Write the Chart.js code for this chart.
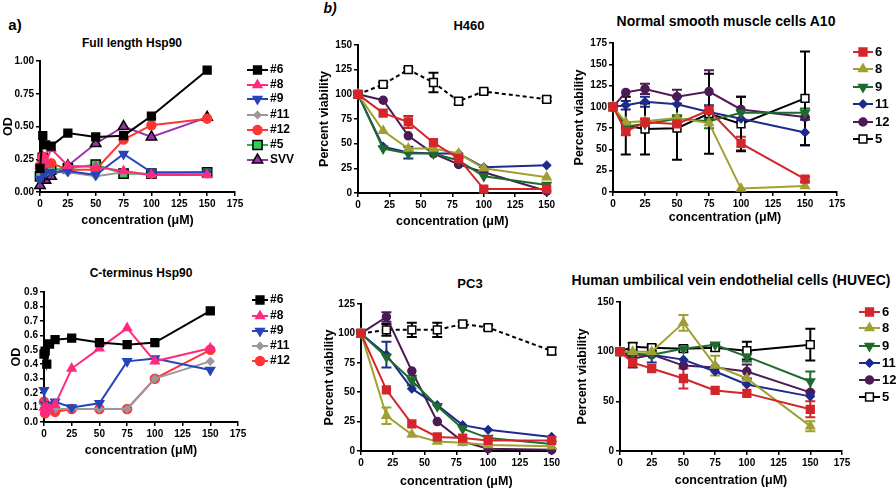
<!DOCTYPE html>
<html>
<head>
<meta charset="utf-8">
<script src="https://cdn.jsdelivr.net/npm/chart.js@4.4.1/dist/chart.umd.min.js"></script>
<style>
  body { margin: 0; background: #fff; font-family: "Liberation Sans", Arial, sans-serif; }
  #fig { position: relative; width: 896px; height: 490px; overflow: hidden; background: #fff; }
  canvas { position: absolute; }
  .t { position: absolute; font-weight: bold; font-size: 12px; white-space: nowrap; transform: translate(-50%, -50%); color: #000; }
</style>
</head>
<body>
<div id="fig">
  <div class="t" style="left:15px;top:24px;font-size:15px">a)</div>
  <div class="t" style="left:330px;top:8px;font-size:14px;font-style:italic">b)</div>
  <div class="t" style="left:132px;top:43px">Full length Hsp90</div>
  <div class="t" style="left:141px;top:273px">C-terminus Hsp90</div>
  <div class="t" style="left:469px;top:25px;font-size:13px">H460</div>
  <div class="t" style="left:726px;top:21px;font-size:14px">Normal smooth muscle cells A10</div>
  <div class="t" style="left:470px;top:283px;font-size:13px">PC3</div>
  <div class="t" style="left:731px;top:280px;font-size:14px">Human umbilical vein endothelial cells (HUVEC)</div>
</div>
<script>
// ---- a) Full length Hsp90 (OD)
var concA = [0, 2.5, 5, 10, 25, 50, 75, 100, 150];
var fl6   = [0.18, 0.43, 0.36, 0.35, 0.45, 0.42, 0.43, 0.58, 0.93];
var fl8   = [0.20, 0.27, 0.22, 0.33, 0.20, 0.19, 0.16, 0.13, 0.13];
var fl9   = [0.10, 0.15, 0.15, 0.15, 0.16, 0.13, 0.29, 0.15, 0.15];
var fl11  = [0.12, 0.15, 0.14, 0.15, 0.15, 0.12, 0.15, 0.13, 0.14];
var fl12  = [0.20, 0.27, 0.22, 0.22, 0.17, 0.17, 0.40, 0.51, 0.56];
var fl5   = [0.12, 0.26, 0.20, 0.17, 0.18, 0.21, 0.14, 0.14, 0.15];
var flSVV = [0.05, 0.12, 0.09, 0.12, 0.20, 0.37, 0.50, 0.42, 0.57];

// ---- a) C-terminus Hsp90 (OD)
var concC = [0, 1, 2.5, 5, 10, 25, 50, 75, 100, 150];
var ct6  = [0.47, 0.49, 0.40, 0.54, 0.57, 0.58, 0.55, 0.535, 0.55, 0.77];
var ct8  = [0.10, 0.07, 0.10, 0.09, 0.12, 0.37, 0.51, 0.65, 0.42, 0.51];
var ct9  = [0.22, 0.12, 0.10, 0.12, 0.14, 0.10, 0.13, 0.42, 0.44, 0.36];
var ct11 = [0.12, 0.10, 0.10, 0.09, 0.09, 0.09, 0.09, 0.09, 0.30, 0.42];
var ct12 = [0.14, 0.06, 0.08, 0.10, 0.07, 0.09, 0.09, 0.09, 0.30, 0.50];

// ---- b) H460 and PC3 (percent viability)
var concB = [0, 20, 40, 60, 80, 100, 150];
var h6  = [100, 81, 72, 51, 35, 4, 4];
var h8  = [100, 63, 45, 45, 40, 25, 16];
var h9  = [100, 45, 40, 40, 33, 17, 8];
var h11 = [100, 47, 41, 40, 40, 26, 28];
var h12 = [100, 94, 58, 40, 29, 21, 2];
var h5  = [100, 110, 125, 112, 93, 103, 95];
var h5err  = [0, 2, 2, 10, 3, 2, 2];
var h6err  = [0, 0, 6, 0, 0, 0, 0];
var h11err = [0, 0, 6, 0, 0, 0, 0];

var p6  = [100, 52, 23, 12, 11, 9, 9];
var p8  = [100, 30, 14, 8, 7, 5, 4];
var p9  = [100, 80, 60, 38, 19, 11, 6];
var p11 = [100, 82, 53, 39, 22, 18, 12];
var p12 = [100, 114, 68, 25, 8, 2, 1];
var p5  = [100, 103, 103, 103, 108, 105, 85];
var p5err  = [0, 5, 6, 6, 2, 2, 3];
var p8err  = [0, 7, 0, 0, 0, 0, 0];
var p9err  = [0, 0, 4, 0, 0, 0, 0];
var p11err = [0, 11, 0, 0, 0, 0, 0];
var p12err = [0, 4, 0, 0, 0, 0, 0];

// ---- b) A10 and HUVEC (percent viability)
var concN = [0, 10, 25, 50, 75, 100, 150];
var n6  = [100, 71, 82, 80, 96, 57, 15];
var n8  = [100, 82, 83, 87, 81, 4, 7];
var n9  = [100, 77, 80, 86, 83, 93, 93];
var n11 = [100, 102, 106, 103, 94, 86, 70];
var n12 = [100, 117, 121, 112, 118, 97, 88];
var n5  = [100, 78, 74, 75, 92, 80, 110];
var n5err  = [0, 34, 30, 37, 47, 32, 55];
var n6err  = [0, 4, 4, 0, 5, 8, 3];
var n11err = [0, 5, 6, 0, 8, 0, 15];
var n12err = [0, 0, 6, 8, 25, 15, 0];
var n9err  = [0, 0, 0, 4, 8, 0, 5];

var u6  = [100, 89, 83, 73, 61, 58, 42];
var u8  = [100, 100, 100, 129, 86, 73, 25];
var u9  = [100, 98, 97, 103, 107, 95, 70];
var u11 = [100, 97, 97, 92, 80, 67, 55];
var u12 = [100, 93, 97, 86, 84, 80, 59];
var u5  = [100, 105, 104, 103, 104, 101, 107];
var u5err  = [0, 4, 3, 3, 3, 9, 16];
var u6err  = [0, 0, 0, 10, 0, 0, 8];
var u8err  = [0, 0, 0, 8, 10, 0, 5];
var u9err  = [0, 0, 0, 0, 0, 5, 10];
var u11err = [0, 0, 8, 0, 0, 0, 0];
var u12err = [0, 9, 0, 0, 0, 7, 0];

var FONT = "Liberation Sans";

// marker/line styles
var ST = {
  a6:  { borderColor: '#000', pointBackgroundColor: '#000', pointBorderColor: '#000', pointStyle: 'rect', pointRadius: 5.5 },
  a8:  { borderColor: '#ff2a80', pointBackgroundColor: '#ff2a80', pointBorderColor: '#ff2a80', pointStyle: 'triangle', pointRadius: 5 },
  a9:  { borderColor: '#2545b8', pointBackgroundColor: '#2545b8', pointBorderColor: '#2545b8', pointStyle: 'triangle', pointRotation: 180, pointRadius: 5 },
  a11: { borderColor: '#999', pointBackgroundColor: '#999', pointBorderColor: '#999', pointStyle: 'rectRot', pointRadius: 3.5 },
  a12: { borderColor: '#ff3535', pointBackgroundColor: '#ff3535', pointBorderColor: '#ff3535', pointStyle: 'circle', pointRadius: 4.5 },
  a5:  { borderColor: '#22bb44', pointBackgroundColor: '#33cc55', pointBorderColor: '#000', pointStyle: 'rect', pointRadius: 6.5 },
  aS:  { borderColor: '#9933aa', pointBackgroundColor: '#9933aa', pointBorderColor: '#000', pointStyle: 'triangle', pointRadius: 6 },
  b6:  { borderColor: '#d3262b', pointBackgroundColor: '#d3262b', pointBorderColor: '#d3262b', pointStyle: 'rect', pointRadius: 5.5 },
  b8:  { borderColor: '#a0a032', pointBackgroundColor: '#a0a032', pointBorderColor: '#a0a032', pointStyle: 'triangle', pointRadius: 5 },
  b9:  { borderColor: '#1e6b2e', pointBackgroundColor: '#1e6b2e', pointBorderColor: '#1e6b2e', pointStyle: 'triangle', pointRotation: 180, pointRadius: 5 },
  b11: { borderColor: '#1c2b8c', pointBackgroundColor: '#1c2b8c', pointBorderColor: '#1c2b8c', pointStyle: 'rectRot', pointRadius: 4 },
  b12: { borderColor: '#4b1b55', pointBackgroundColor: '#4b1b55', pointBorderColor: '#4b1b55', pointStyle: 'circle', pointRadius: 4 },
  b5:  { borderColor: '#000', pointBackgroundColor: '#fff', pointBorderColor: '#000', pointStyle: 'rect', pointRadius: 5.5 }
};

function ser(label, xs, ys, st, errs, dash) {
  var d = Object.assign({
    label: label,
    data: xs.map(function (x, i) { return { x: x, y: ys[i] }; }),
    borderWidth: 2, pointBorderWidth: 1.5, tension: 0, clip: false,
    pointHoverRadius: 5
  }, st);
  if (errs) d.errs = errs;
  if (dash) d.borderDash = [4, 3];
  return d;
}

// error bars with caps
var errorBars = {
  id: 'errorBars',
  beforeDatasetsDraw: function (chart) {
    var ctx = chart.ctx, xs = chart.scales.x, ys = chart.scales.y;
    chart.data.datasets.forEach(function (ds) {
      if (!ds.errs) return;
      ctx.save();
      ctx.strokeStyle = ds.borderColor;
      ctx.lineWidth = 2;
      ds.errs.forEach(function (e, j) {
        if (!e) return;
        var p = ds.data[j];
        var x = xs.getPixelForValue(p.x);
        var y1 = ys.getPixelForValue(p.y + e), y2 = ys.getPixelForValue(p.y - e);
        ctx.beginPath();
        ctx.moveTo(x, y1); ctx.lineTo(x, y2);
        ctx.moveTo(x - 5, y1); ctx.lineTo(x + 5, y1);
        ctx.moveTo(x - 5, y2); ctx.lineTo(x + 5, y2);
        ctx.stroke();
      });
      ctx.restore();
    });
  }
};

// legend: line - marker - line, then label
function sideLegend(lg) {
  return {
    id: 'sideLegend',
    afterDraw: function (chart) {
      var ctx = chart.ctx;
      chart.data.datasets.forEach(function (ds, i) {
        var y = lg.ys[i];
        ctx.save();
        ctx.strokeStyle = ds.borderColor; ctx.lineWidth = 2;
        ctx.beginPath(); ctx.moveTo(lg.x0, y); ctx.lineTo(lg.x1, y); ctx.stroke();
        ctx.fillStyle = ds.pointBackgroundColor;
        ctx.strokeStyle = ds.pointBorderColor;
        ctx.lineWidth = 1.5;
        Chart.helpers.drawPoint(ctx, {
          pointStyle: ds.pointStyle, radius: ds.pointRadius,
          rotation: ds.pointRotation || 0, borderWidth: 1.5
        }, (lg.x0 + lg.x1) / 2, y);
        ctx.fillStyle = '#000';
        ctx.font = 'bold ' + lg.size + 'px "' + FONT + '"';
        ctx.textBaseline = 'middle'; ctx.textAlign = 'left';
        ctx.fillText(ds.label, lg.xt, y);
        ctx.restore();
      });
    }
  };
}

function panel(p) {
  var left = p.L - p.yw, top = p.T - 8;
  var w = p.right - left, h = p.B + p.xh - top;
  var cv = document.createElement('canvas');
  cv.width = w; cv.height = h;
  cv.style.left = left + 'px'; cv.style.top = top + 'px';
  document.getElementById('fig').appendChild(cv);

  var tickFont = { family: FONT, size: 10, weight: 'bold' };
  var plugins = [errorBars];
  if (p.legend) {
    var lg = p.legend;
    plugins.push(sideLegend({
      x0: lg.x0 - left, x1: lg.x1 - left, xt: lg.xt - left, size: lg.size,
      ys: lg.ys.map(function (v) { return v - top; })
    }));
  }
  return new Chart(cv, {
    type: 'line',
    data: { datasets: p.datasets },
    plugins: plugins,
    options: {
      responsive: false,
      animation: false,
      layout: { padding: { left: 0, top: 8, right: p.right - p.R, bottom: 0 } },
      plugins: { legend: { display: false }, tooltip: { enabled: false } },
      scales: {
        x: {
          type: 'linear', min: 0, max: p.xmax,
          ticks: { stepSize: 25, color: '#000', font: tickFont, padding: 2, maxRotation: 0, autoSkip: false },
          grid: { drawOnChartArea: false, color: '#000', lineWidth: 1.5, tickLength: 4 },
          border: { color: '#000', width: 2 },
          title: { display: true, text: 'concentration (μM)', color: '#000',
                   font: { family: FONT, size: 12.5, weight: 'bold' }, padding: { top: 0, bottom: 0 } },
          afterFit: function (s) { s.height = p.xh; }
        },
        y: {
          min: 0, max: p.ymax,
          ticks: { stepSize: p.ystep, color: '#000', font: tickFont, padding: 2, autoSkip: false,
                   callback: function (v) { return p.yfmt ? v.toFixed(p.yfmt) : v; } },
          grid: { drawOnChartArea: false, color: '#000', lineWidth: 1.5, tickLength: 4 },
          border: { color: '#000', width: 2 },
          title: { display: true, text: p.ytitle, color: '#000',
                   font: { family: FONT, size: 12.5, weight: 'bold' }, padding: { top: p.ytp || 0, bottom: 0 } },
          afterFit: function (s) { s.width = p.yw; }
        }
      }
    }
  });
}

// a) top
panel({
  L: 40, T: 61, R: 235, B: 192, yw: 40, xh: 36, right: 300,
  xmax: 175, ymax: 1, ystep: 0.25, yfmt: 2, ytitle: 'OD', ytp: 1,
  legend: { x0: 247, x1: 268, xt: 270, size: 12, ys: [70, 85, 99, 115, 130, 145, 160] },
  datasets: [
    ser('#6', concA, fl6, ST.a6),
    ser('#8', concA, fl8, ST.a8),
    ser('#9', concA, fl9, ST.a9),
    ser('#11', concA, fl11, ST.a11),
    ser('#12', concA, fl12, ST.a12),
    ser('#5', concA, fl5, ST.a5),
    ser('SVV', concA, flSVV, ST.aS)
  ]
});

// a) bottom
panel({
  L: 44, T: 292, R: 238, B: 422, yw: 44, xh: 36, right: 300,
  xmax: 175, ymax: 0.9, ystep: 0.1, yfmt: 1, ytitle: 'OD', ytp: 9,
  legend: { x0: 252, x1: 268, xt: 270, size: 12, ys: [300, 316, 331, 346, 361] },
  datasets: [
    ser('#6', concC, ct6, ST.a6),
    ser('#8', concC, ct8, ST.a8),
    ser('#9', concC, ct9, ST.a9),
    ser('#11', concC, ct11, ST.a11),
    ser('#12', concC, ct12, ST.a12)
  ]
});

// b) H460
panel({
  L: 358, T: 45, R: 547, B: 193, yw: 42, xh: 36, right: 557,
  xmax: 150, ymax: 150, ystep: 25, ytitle: 'Percent viability', ytp: 1,
  datasets: [
    ser('6', concB, h6, ST.b6, h6err),
    ser('8', concB, h8, ST.b8),
    ser('9', concB, h9, ST.b9),
    ser('11', concB, h11, ST.b11, h11err),
    ser('12', concB, h12, ST.b12),
    ser('5', concB, h5, ST.b5, h5err, true)
  ]
});

// b) A10
panel({
  L: 613, T: 43, R: 837, B: 192, yw: 41, xh: 33, right: 896,
  xmax: 175, ymax: 175, ystep: 25, ytitle: 'Percent viability', ytp: 0,
  legend: { x0: 853, x1: 873, xt: 875, size: 13, ys: [52, 69, 87, 104, 122, 139] },
  datasets: [
    ser('6', concN, n6, ST.b6, n6err),
    ser('8', concN, n8, ST.b8),
    ser('9', concN, n9, ST.b9, n9err),
    ser('11', concN, n11, ST.b11, n11err),
    ser('12', concN, n12, ST.b12, n12err),
    ser('5', concN, n5, ST.b5, n5err)
  ]
});

// b) PC3
panel({
  L: 361, T: 304, R: 552, B: 451, yw: 39, xh: 38, right: 562,
  xmax: 150, ymax: 125, ystep: 25, ytitle: 'Percent viability', ytp: 0,
  datasets: [
    ser('6', concB, p6, ST.b6),
    ser('8', concB, p8, ST.b8, p8err),
    ser('9', concB, p9, ST.b9, p9err),
    ser('11', concB, p11, ST.b11, p11err),
    ser('12', concB, p12, ST.b12, p12err),
    ser('5', concB, p5, ST.b5, p5err, true)
  ]
});

// b) HUVEC
panel({
  L: 620, T: 302, R: 842, B: 451, yw: 45, xh: 37, right: 896,
  xmax: 175, ymax: 150, ystep: 50, ytitle: 'Percent viability', ytp: 0,
  legend: { x0: 859, x1: 880, xt: 882, size: 13, ys: [312, 328, 346, 363, 380, 397] },
  datasets: [
    ser('6', concN, u6, ST.b6, u6err),
    ser('8', concN, u8, ST.b8, u8err),
    ser('9', concN, u9, ST.b9, u9err),
    ser('11', concN, u11, ST.b11, u11err),
    ser('12', concN, u12, ST.b12, u12err),
    ser('5', concN, u5, ST.b5, u5err)
  ]
});
</script>
</body>
</html>
